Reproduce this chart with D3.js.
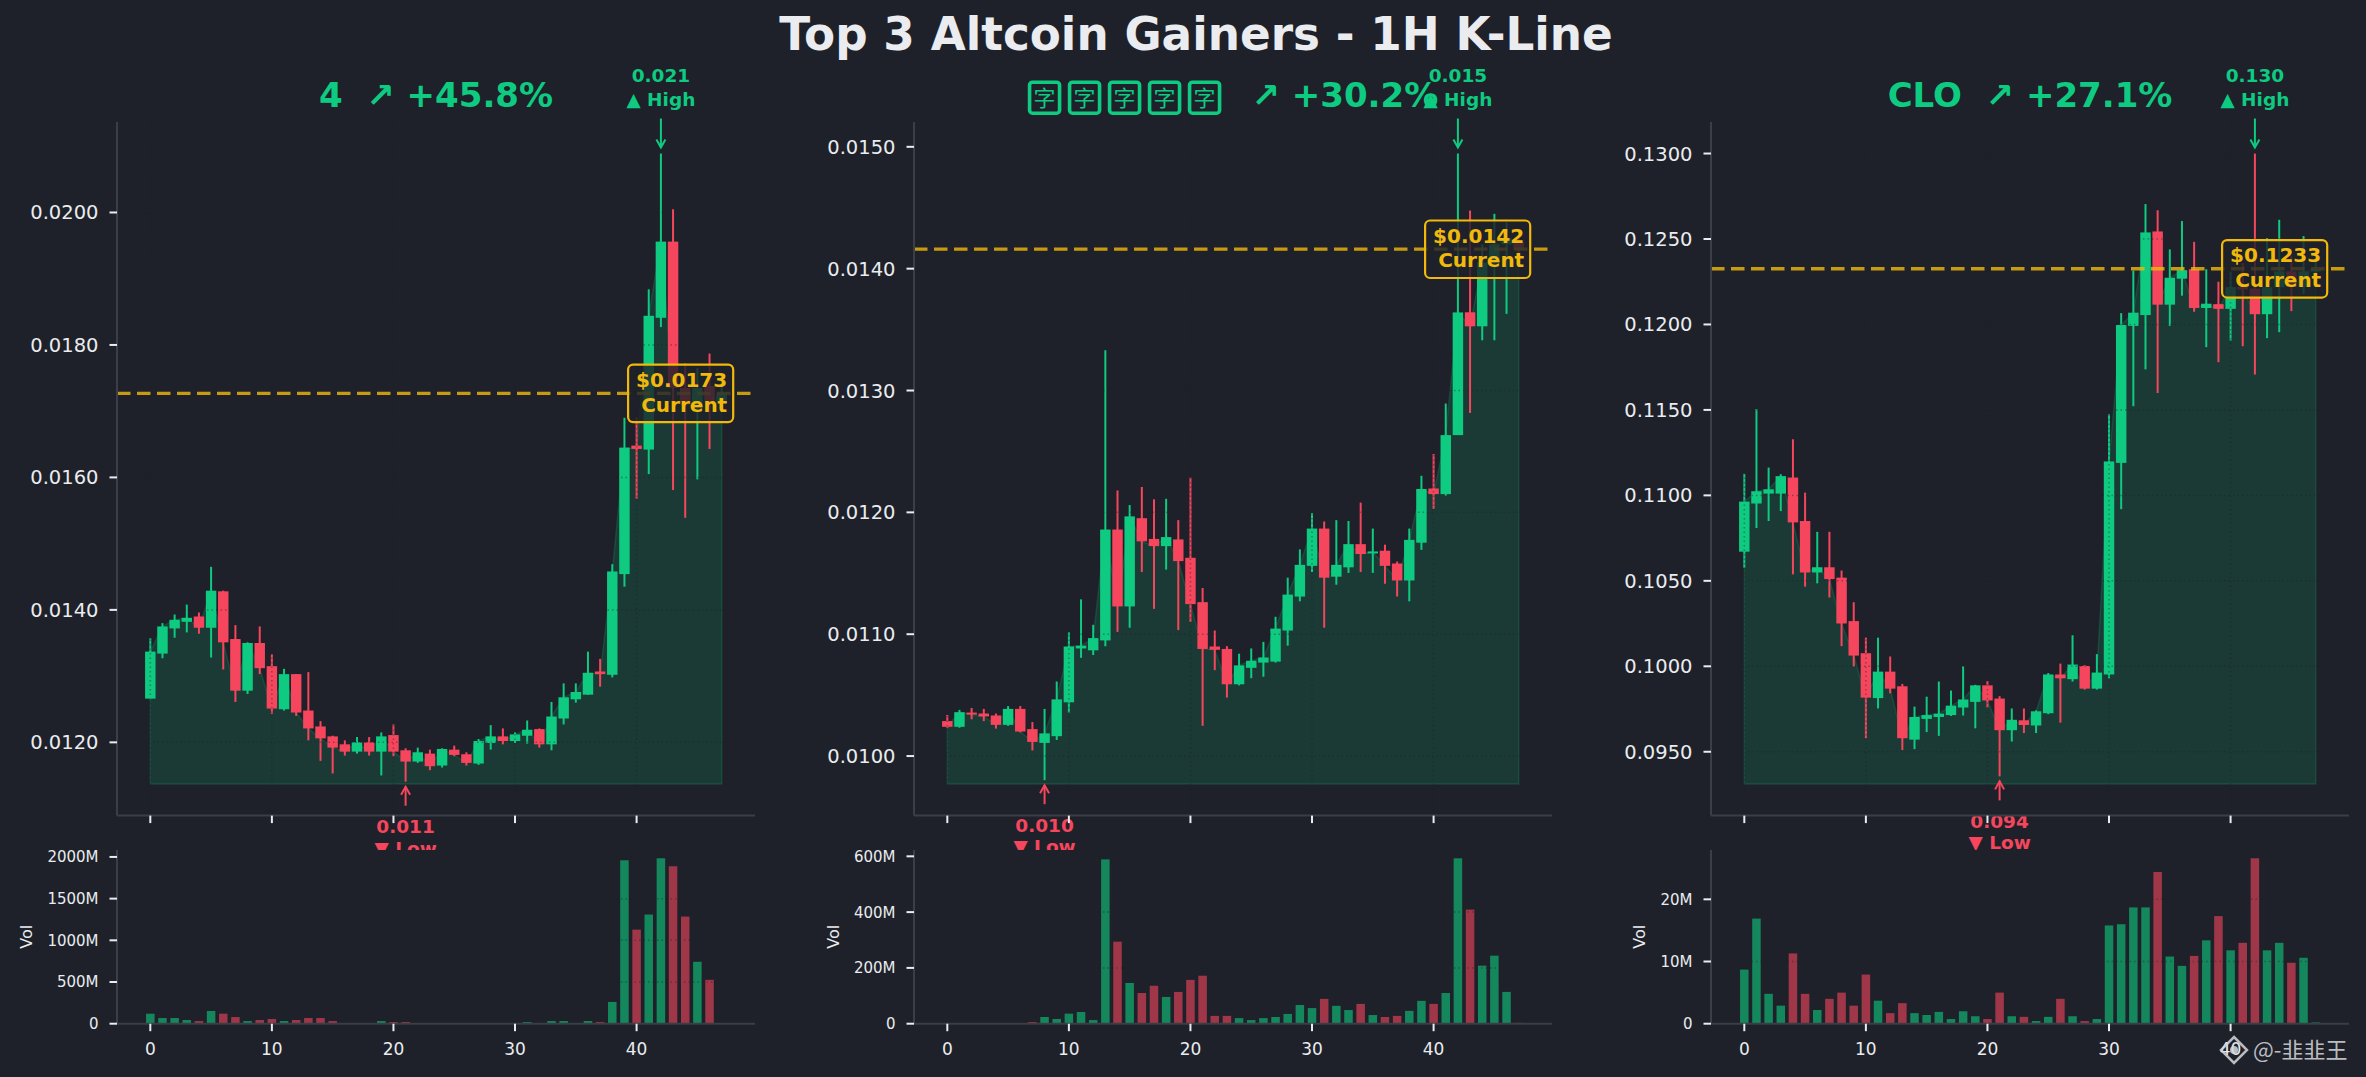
<!DOCTYPE html>
<html><head><meta charset="utf-8">
<script src="https://cdn.jsdelivr.net/npm/d3@7"></script>
<style>
html,body{margin:0;padding:0;background:#1e2129;}
svg{display:block;}
text{font-family:"DejaVu Sans",sans-serif;}
</style></head><body>
<svg id="chart" width="2366" height="1077"></svg>
<script>
// ---------------- DATA ----------------
const titleText = "Top 3 Altcoin Gainers - 1H K-Line";
const coinNames = ["4", "字字字字字", "CLO"];
const pctChange = ["+45.8%", "+30.2%", "+27.1%"];
const xTickValues = [0, 10, 20, 30, 40];

const p1Open  = [0.01266,0.01334,0.01372,0.01382,0.01390,0.01373,0.01428,0.01356,0.01278,0.01350,0.01315,0.01250,0.01303,0.01248,0.01224,0.01209,0.01197,0.01186,0.01200,0.01186,0.01211,0.01188,0.01171,0.01183,0.01165,0.01189,0.01182,0.01168,0.01199,0.01209,0.01202,0.01210,0.01220,0.01197,0.01236,0.01265,0.01272,0.01307,0.01302,0.01454,0.01648,0.01642,0.01841,0.01956,0.01735,0.01705,0.01738,0.01712];
const p1High  = [0.01357,0.01380,0.01393,0.01408,0.01396,0.01465,0.01429,0.01377,0.01351,0.01375,0.01333,0.01311,0.01303,0.01306,0.01232,0.01210,0.01203,0.01208,0.01208,0.01215,0.01227,0.01191,0.01192,0.01189,0.01191,0.01195,0.01185,0.01205,0.01226,0.01221,0.01215,0.01233,0.01221,0.01261,0.01289,0.01289,0.01337,0.01326,0.01469,0.01690,0.01690,0.01884,0.02089,0.02005,0.01772,0.01765,0.01787,0.01745];
const p1Low   = [0.01265,0.01327,0.01358,0.01366,0.01364,0.01328,0.01310,0.01261,0.01273,0.01303,0.01243,0.01248,0.01240,0.01203,0.01172,0.01153,0.01180,0.01183,0.01180,0.01150,0.01179,0.011406,0.01169,0.01158,0.01162,0.01179,0.01165,0.01166,0.01189,0.01197,0.01199,0.01198,0.01192,0.01188,0.01227,0.01260,0.01272,0.01284,0.01298,0.01435,0.01568,0.01605,0.01827,0.01581,0.01539,0.01597,0.01643,0.01700];
const p1Close = [0.01337,0.01375,0.01385,0.01388,0.01373,0.01429,0.01351,0.01278,0.01350,0.01312,0.01251,0.01303,0.01245,0.01221,0.01206,0.01192,0.01186,0.01200,0.01186,0.01209,0.01186,0.01171,0.01185,0.01164,0.01190,0.01181,0.01169,0.01202,0.01209,0.01202,0.01212,0.01219,0.01197,0.01239,0.01268,0.01276,0.01305,0.01303,0.01458,0.01645,0.01643,0.01844,0.01956,0.01735,0.01710,0.01735,0.01715,0.01727];
const p1Vol   = [120e6,68e6,68e6,44e6,32e6,153e6,120e6,80e6,32e6,44e6,56e6,32e6,44e6,68e6,68e6,32e6,5e6,4e6,5e6,32e6,20e6,20e6,4e6,3e6,4e6,3e6,3e6,5e6,4e6,3e6,5e6,20e6,4e6,32e6,32e6,5e6,32e6,20e6,261e6,1960e6,1128e6,1309e6,1984e6,1888e6,1285e6,743e6,526e6,3e6];

const p2Open  = [0.010287,0.01024,0.010356,0.010349,0.010333,0.010256,0.010387,0.010221,0.010108,0.010163,0.010441,0.010883,0.010868,0.010949,0.011859,0.011228,0.011952,0.011782,0.011723,0.011778,0.011627,0.011263,0.010899,0.010879,0.010589,0.010724,0.010767,0.010775,0.01103,0.011309,0.011561,0.011867,0.011472,0.011549,0.011739,0.011665,0.011685,0.01158,0.011441,0.011751,0.012196,0.01215,0.012634,0.013642,0.013527,0.01405,0.01420,0.01422];
const p2High  = [0.010337,0.010379,0.010395,0.010387,0.010349,0.01041,0.01041,0.010279,0.010387,0.010612,0.011015,0.011286,0.011077,0.013331,0.01218,0.01206,0.012208,0.012107,0.012111,0.011936,0.012285,0.011379,0.01103,0.010902,0.01084,0.010883,0.010937,0.011143,0.011464,0.011696,0.011995,0.011925,0.011936,0.011929,0.01208,0.011867,0.011735,0.011596,0.011867,0.0123,0.012479,0.012893,0.014945,0.014477,0.01420,0.01445,0.01438,0.01428];
const p2Low   = [0.010232,0.010232,0.010302,0.010287,0.010225,0.010248,0.010194,0.010046,0.009802,0.010132,0.010356,0.010806,0.010829,0.010902,0.011019,0.011053,0.01151,0.011208,0.01153,0.011034,0.0111,0.010248,0.010705,0.01048,0.01058,0.010639,0.010651,0.010767,0.010906,0.01127,0.01151,0.011053,0.011406,0.011503,0.01151,0.011503,0.011414,0.011309,0.01127,0.011692,0.012029,0.012138,0.012634,0.012816,0.013412,0.013412,0.013629,0.01410];
const p2Close = [0.01024,0.01036,0.010341,0.010325,0.010256,0.010387,0.010201,0.010116,0.010186,0.010465,0.010899,0.010906,0.010968,0.011859,0.011228,0.011967,0.011762,0.011723,0.011797,0.0116,0.011247,0.010879,0.010872,0.010589,0.010744,0.010782,0.010809,0.011046,0.011325,0.011569,0.011867,0.011464,0.011569,0.011739,0.011658,0.011677,0.011561,0.011441,0.011774,0.012192,0.01215,0.012634,0.013641,0.013527,0.01405,0.01420,0.01425,0.01416];
const p2Vol   = [2e6,2e6,2e6,2e6,2e6,2e6,2e6,6e6,24e6,17e6,36e6,42e6,13e6,589e6,294e6,146e6,110e6,136e6,96e6,114e6,157e6,172e6,28e6,28e6,20e6,13e6,20e6,24e6,35e6,67e6,56e6,89e6,64e6,49e6,71e6,31e6,24e6,28e6,46e6,82e6,71e6,110e6,593e6,409e6,208e6,244e6,114e6,3e6];

const p3Open  = [0.106706,0.109525,0.110105,0.110105,0.111044,0.1085,0.10549,0.105794,0.105187,0.102644,0.100766,0.098141,0.099688,0.098831,0.095709,0.096924,0.097035,0.097146,0.097588,0.097919,0.098886,0.098113,0.096262,0.096842,0.096538,0.097256,0.099522,0.099246,0.10002,0.098693,0.099522,0.111901,0.119914,0.12055,0.125441,0.121158,0.122678,0.12323,0.120964,0.121187,0.120914,0.1222,0.1221,0.1206,0.12218,0.1231,0.1222,0.1231];
const p3High  = [0.111266,0.115051,0.111625,0.111238,0.113283,0.11016,0.107867,0.107867,0.105601,0.10375,0.101677,0.101677,0.100573,0.098969,0.097643,0.098223,0.099108,0.098583,0.1,0.098914,0.099135,0.098251,0.097533,0.097533,0.097422,0.099605,0.100157,0.101815,0.100074,0.100711,0.114747,0.120661,0.123147,0.127043,0.126684,0.124391,0.126049,0.124833,0.12323,0.1225,0.123092,0.1236,0.1300,0.125051,0.126125,0.124,0.125168,0.1237];
const p3Low   = [0.105767,0.108088,0.1085,0.109083,0.10538,0.104662,0.104855,0.104026,0.10118,0.099992,0.095792,0.097533,0.098417,0.095101,0.095156,0.09615,0.095929,0.097091,0.097118,0.096372,0.097588,0.09356,0.095598,0.096095,0.096095,0.0972,0.096703,0.099108,0.098638,0.098638,0.0993,0.109193,0.115217,0.117372,0.115991,0.119914,0.121683,0.120743,0.118671,0.117792,0.11906,0.118728,0.11707,0.119197,0.119548,0.120778,0.121792,0.1228];
const p3Close = [0.109635,0.110243,0.110354,0.111127,0.108419,0.10549,0.105794,0.105104,0.102506,0.100627,0.098168,0.099688,0.098693,0.095792,0.097035,0.097146,0.097229,0.097698,0.098057,0.098886,0.098002,0.096262,0.09687,0.096566,0.097367,0.099522,0.0993,0.100102,0.098693,0.099633,0.111984,0.11997,0.120688,0.125385,0.121158,0.122733,0.123175,0.120964,0.121213,0.120914,0.122183,0.12205,0.1206,0.122183,0.1231,0.1222,0.1231,0.12326];
const p3Vol   = [8.7e6,16.9e6,4.8e6,2.9e6,11.3e6,4.8e6,2.2e6,4.0e6,5.0e6,2.9e6,7.9e6,3.7e6,1.7e6,3.3e6,1.7e6,1.4e6,1.9e6,0.75e6,2.0e6,1.2e6,0.75e6,5.0e6,1.2e6,1.1e6,0.43e6,1.1e6,4.0e6,1.2e6,0.43e6,0.75e6,15.8e6,16.0e6,18.7e6,18.7e6,24.4e6,10.8e6,9.3e6,10.9e6,13.4e6,17.3e6,11.8e6,13.0e6,26.6e6,11.8e6,13.0e6,9.8e6,10.6e6,0.2e6];

const priceTicks = [
  [0.0120,0.0140,0.0160,0.0180,0.0200],
  [0.0100,0.0110,0.0120,0.0130,0.0140,0.0150],
  [0.0950,0.1000,0.1050,0.1100,0.1150,0.1200,0.1250,0.1300]
];
const volTicks = [
  [0,500e6,1000e6,1500e6,2000e6],
  [0,200e6,400e6,600e6],
  [0,10e6,20e6]
];
const fillBase = [0.01137, 0.00977, 0.09311];
const watermarkText = "@-韭韭王";

// ---------------- STYLE / LAYOUT ----------------
const W = 2366, H = 1077;
const BG = "#1e2129", GREEN = "#0ecb81", RED = "#f6465d", GOLD = "#f0b90b", TEXT = "#eaecef", SPINE = "#3a3e46";
const axLeft = [117, 914, 1711], axWidth = 638;
const cTop = 122, cBottom = 815.6, vTop = 850, vBottom = 1023.7;
const xDomain = [-2.74, 49.74];
const GRID_OP = 0.4;

const svg = d3.select("#chart");
svg.append("rect").attr("width", W).attr("height", H).attr("fill", BG);

svg.append("text").attr("x", 1196).attr("y", 50).attr("text-anchor", "middle")
  .attr("font-size", 45.3).attr("font-weight", "bold").attr("fill", TEXT).text(titleText);

const panels = [
  {open: p1Open, high: p1High, low: p1Low, close: p1Close, vol: p1Vol},
  {open: p2Open, high: p2High, low: p2Low, close: p2Close, vol: p2Vol},
  {open: p3Open, high: p3High, low: p3Low, close: p3Close, vol: p3Vol}
];

function arrow(g, x0, yFrom, yTo, color) {
  g.append("line").attr("x1", x0).attr("x2", x0).attr("y1", yFrom).attr("y2", yTo)
    .attr("stroke", color).attr("stroke-width", 2);
  const dir = yTo > yFrom ? -1 : 1;
  g.append("path").attr("d", `M${x0-4.5},${yTo+dir*8}L${x0},${yTo}L${x0+4.5},${yTo+dir*8}`)
    .attr("fill", "none").attr("stroke", color).attr("stroke-width", 2);
}

panels.forEach((p, k) => {
  const left = axLeft[k], right = left + axWidth;
  const n = p.close.length;
  const idx = p.close.map((_, i) => i);
  const x = d3.scaleLinear().domain(xDomain).range([left, right]);
  const maxH = d3.max(p.high);
  const r = maxH - fillBase[k];
  const y = d3.scaleLinear().domain([fillBase[k] - 0.05 * r, maxH + 0.05 * r]).range([cBottom, cTop]);
  const unit = x(1) - x(0);
  const g = svg.append("g");

  // ---- panel title ----
  const cx = (left + right) / 2, tBase = 107;
  const name = coinNames[k];
  const rest = "  \u2197 " + pctChange[k];
  if (/[\u4e00-\u9fff]/.test(name)) {
    const tmp = g.append("text").attr("font-size", 34).attr("font-weight", "bold")
      .style("white-space", "pre").text(rest);
    const restLen = tmp.node().getComputedTextLength();
    const chars = Array.from(name);
    const total = chars.length * 40 + restLen;
    const sx = cx - total / 2;
    chars.forEach((ch, j) => {
      g.append("rect").attr("x", sx + j * 40 + 1.8).attr("y", tBase - 24.8).attr("width", 30).attr("height", 31)
        .attr("rx", 3).attr("fill", "none").attr("stroke", GREEN).attr("stroke-width", 3.6);
      g.append("text").attr("x", sx + j * 40 + 16.8).attr("y", tBase - 1.5).attr("text-anchor", "middle")
        .attr("font-size", 22).attr("fill", GREEN).style("font-family", "'Noto Sans CJK SC'").text(ch);
    });
    tmp.attr("x", sx + chars.length * 40).attr("y", tBase).attr("fill", GREEN);
  } else {
    g.append("text").attr("x", cx).attr("y", tBase).attr("text-anchor", "middle")
      .attr("font-size", 34).attr("font-weight", "bold").attr("fill", GREEN)
      .style("white-space", "pre").text(name + rest);
  }

  // ---- area fill ----
  const area = d3.area().x(i => x(i)).y0(y(fillBase[k])).y1(i => y(p.close[i]));
  g.append("path").attr("d", area(idx)).attr("fill", GREEN).attr("fill-opacity", 0.15)
    .attr("stroke", GREEN).attr("stroke-opacity", 0.18).attr("stroke-width", 1.5);

  // ---- candles ----
  idx.forEach(i => {
    const up = p.close[i] >= p.open[i];
    const col = up ? GREEN : RED;
    g.append("line").attr("x1", x(i)).attr("x2", x(i)).attr("y1", y(p.high[i])).attr("y2", y(p.low[i]))
      .attr("stroke", col).attr("stroke-width", 2);
    const yt = y(Math.max(p.open[i], p.close[i])), yb = y(Math.min(p.open[i], p.close[i]));
    const h = Math.max(yb - yt, 2);
    g.append("rect").attr("x", x(i) - unit * 0.43).attr("y", (yt + yb) / 2 - h / 2)
      .attr("width", unit * 0.86).attr("height", h).attr("fill", col);
  });

  // ---- grid ----
  priceTicks[k].forEach(v => {
    g.append("line").attr("x1", left).attr("x2", right).attr("y1", y(v)).attr("y2", y(v))
      .attr("stroke", "#1e2129").attr("stroke-opacity", GRID_OP).attr("stroke-width", 1.5).attr("stroke-dasharray", "1.5,3");
  });
  xTickValues.forEach(v => {
    g.append("line").attr("x1", x(v)).attr("x2", x(v)).attr("y1", cTop).attr("y2", cBottom)
      .attr("stroke", "#1e2129").attr("stroke-opacity", GRID_OP).attr("stroke-width", 1.5).attr("stroke-dasharray", "1.5,3");
  });

  // ---- current price ----
  const last = p.close[n - 1];
  const ly = y(last);
  g.append("line").attr("x1", left).attr("x2", right).attr("y1", ly).attr("y2", ly)
    .attr("stroke", GOLD).attr("stroke-opacity", 0.8).attr("stroke-width", 3.3).attr("stroke-dasharray", "13.5,6.5");
  const tx = x(n - 1) + 5.5;
  const boxG = g.append("g");
  const ct = boxG.append("text").attr("text-anchor", "end").attr("font-size", 20).attr("font-weight", "bold").attr("fill", GOLD);
  ct.append("tspan").attr("x", tx).attr("y", ly - 6.3).text("$" + last.toFixed(4));
  ct.append("tspan").attr("x", tx).attr("y", ly + 18.3).text("Current");
  const bb = ct.node().getBBox();
  boxG.insert("rect", "text").attr("x", bb.x - 8).attr("y", ly - 28.7).attr("width", tx + 6 - (bb.x - 8)).attr("height", 57.5)
    .attr("rx", 5).attr("fill", "#1e2129").attr("fill-opacity", 0.82).attr("stroke", GOLD).attr("stroke-width", 2.2);

  // ---- high / low annotations ----
  const fmt3 = d3.format(".3f");
  const iH = d3.maxIndex(p.high), iL = d3.minIndex(p.low);
  const hx = x(iH), hy = y(p.high[iH]);
  const ht = g.append("text").attr("text-anchor", "middle").attr("font-size", 18.5).attr("font-weight", "bold").attr("fill", GREEN);
  ht.append("tspan").attr("x", hx).attr("y", hy - 72).text(fmt3(p.high[iH]));
  ht.append("tspan").attr("x", hx).attr("y", hy - 48).text("\u25B2 High");
  arrow(g, hx, hy - 35, hy - 6, GREEN);

  const lx = x(iL), lyy = y(p.low[iL]);
  const lt = g.append("text").attr("text-anchor", "middle").attr("font-size", 18.5).attr("font-weight", "bold").attr("fill", RED);
  lt.append("tspan").attr("x", lx).attr("y", lyy + 51.5).text(fmt3(p.low[iL]));
  lt.append("tspan").attr("x", lx).attr("y", lyy + 73).text("\u25BC Low");
  arrow(g, lx, lyy + 24, lyy + 5, RED);

  // ---- price axes ----
  g.append("line").attr("x1", left).attr("x2", left).attr("y1", cTop).attr("y2", cBottom).attr("stroke", SPINE).attr("stroke-width", 2);
  g.append("line").attr("x1", left).attr("x2", right).attr("y1", cBottom).attr("y2", cBottom).attr("stroke", SPINE).attr("stroke-width", 2);
  priceTicks[k].forEach(v => {
    g.append("line").attr("x1", left - 7.5).attr("x2", left).attr("y1", y(v)).attr("y2", y(v)).attr("stroke", TEXT).attr("stroke-width", 2);
    g.append("text").attr("x", left - 18.5).attr("y", y(v)).attr("dy", "0.36em").attr("text-anchor", "end")
      .attr("font-size", 19.5).attr("fill", TEXT).text(v.toFixed(4));
  });
  xTickValues.forEach(v => {
    g.append("line").attr("x1", x(v)).attr("x2", x(v)).attr("y1", cBottom).attr("y2", cBottom + 7.5).attr("stroke", TEXT).attr("stroke-width", 2);
  });

  // ---- volume ----
  const vg = svg.append("g");
  vg.append("rect").attr("x", left - 1).attr("y", vTop).attr("width", axWidth + 2).attr("height", vBottom - vTop).attr("fill", BG);
  const yv = d3.scaleLinear().domain([0, d3.max(p.vol) * 1.05]).range([vBottom, vTop]);
  idx.forEach(i => {
    const up = p.close[i] >= p.open[i];
    vg.append("rect").attr("x", x(i) - unit * 0.35).attr("y", yv(p.vol[i])).attr("width", unit * 0.7)
      .attr("height", vBottom - yv(p.vol[i])).attr("fill", up ? GREEN : RED).attr("fill-opacity", 0.6);
  });
  volTicks[k].forEach(v => {
    vg.append("line").attr("x1", left).attr("x2", right).attr("y1", yv(v)).attr("y2", yv(v))
      .attr("stroke", "#1e2129").attr("stroke-opacity", GRID_OP).attr("stroke-width", 1.5).attr("stroke-dasharray", "1.5,3");
  });
  vg.append("line").attr("x1", left).attr("x2", left).attr("y1", vTop).attr("y2", vBottom).attr("stroke", SPINE).attr("stroke-width", 2);
  vg.append("line").attr("x1", left).attr("x2", right).attr("y1", vBottom).attr("y2", vBottom).attr("stroke", SPINE).attr("stroke-width", 2);
  const fmtVol = v => v === 0 ? "0" : (v / 1e6) + "M";
  let minLabelX = left;
  volTicks[k].forEach(v => {
    vg.append("line").attr("x1", left - 7.5).attr("x2", left).attr("y1", yv(v)).attr("y2", yv(v)).attr("stroke", TEXT).attr("stroke-width", 2);
    const t = vg.append("text").attr("x", left - 18.5).attr("y", yv(v)).attr("dy", "0.36em").attr("text-anchor", "end")
      .attr("font-size", 15).attr("fill", TEXT).text(fmtVol(v));
    minLabelX = Math.min(minLabelX, t.node().getBBox().x);
  });
  xTickValues.forEach(v => {
    vg.append("line").attr("x1", x(v)).attr("x2", x(v)).attr("y1", vBottom).attr("y2", vBottom + 7.5).attr("stroke", TEXT).attr("stroke-width", 2);
    vg.append("text").attr("x", x(v)).attr("y", vBottom + 31.5).attr("text-anchor", "middle")
      .attr("font-size", 17).attr("fill", TEXT).text(v);
  });
  const vx = minLabelX - 21, vy = (vTop + vBottom) / 2;
  vg.append("text").attr("transform", `translate(${vx},${vy}) rotate(-90)`).attr("text-anchor", "middle")
    .attr("dy", "0.36em").attr("font-size", 16).attr("fill", TEXT).text("Vol");
});

// ---- watermark ----
const wm = svg.append("g").attr("opacity", 0.85);
wm.append("path").attr("d", "M2234,1037 L2247,1050 L2234,1063 L2221,1050 Z").attr("fill", "none").attr("stroke", "#d6d8dc").attr("stroke-width", 2.5);
wm.append("circle").attr("cx", 2234).attr("cy", 1050).attr("r", 4).attr("fill", "#d6d8dc");
wm.append("text").attr("x", 2253).attr("y", 1058).attr("font-size", 22).attr("fill", "#d6d8dc")
  .style("font-family", "'Noto Sans CJK SC','DejaVu Sans'").text(watermarkText);
</script>
</body></html>
